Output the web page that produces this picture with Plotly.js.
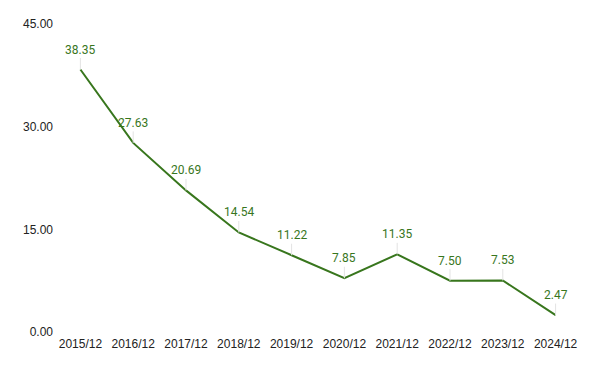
<!DOCTYPE html>
<html>
<head>
<meta charset="utf-8">
<script src="https://cdn.plot.ly/plotly-3.0.1.min.js"></script>
<style>html,body{margin:0;padding:0;background:#fff;}#chart{width:600px;height:371px;}</style>
</head>
<body>
<div id="chart"></div>
<script>
const categories = ["2015/12","2016/12","2017/12","2018/12","2019/12","2020/12","2021/12","2022/12","2023/12","2024/12"];
const values = [38.35, 27.63, 20.69, 14.54, 11.22, 7.85, 11.35, 7.50, 7.53, 2.47];
const yTicks = [0, 15, 30, 45];

const green = "#38761d";
const axisFont = {family: "Arial, 'Liberation Sans', sans-serif", size: 12, color: "#222"};
const annotations = categories.map((c, i) => ({
  x: c, y: values[i], xref: "x", yref: "y",
  text: values[i].toFixed(2),
  showarrow: true, arrowhead: 0, arrowwidth: 1, arrowcolor: "#e3e3e3",
  ax: 0, ay: -20, standoff: 0,
  font: {family: "Roboto, Arial, sans-serif", size: 12, color: green}
}));

Plotly.newPlot("chart", [{
  x: categories, y: values, type: "scatter", mode: "lines",
  line: {color: green, width: 2}, hoverinfo: "skip"
}], {
  width: 600, height: 371,
  margin: {l: 54, r: 18, t: 24, b: 39},
  paper_bgcolor: "#fff", plot_bgcolor: "#fff",
  showlegend: false,
  font: axisFont,
  xaxis: {type: "category", range: [-0.5, 9.5], showgrid: false, zeroline: false, showline: false, ticks: "", tickfont: axisFont, ticklabelstandoff: 3},
  yaxis: {range: [0, 45], tickvals: yTicks, ticktext: yTicks.map(v => v.toFixed(2)), showgrid: false, zeroline: false, showline: false, ticks: "", tickfont: axisFont, ticklabelstandoff: 0},
  annotations: annotations
}, {staticPlot: true});
</script>
</body>
</html>
